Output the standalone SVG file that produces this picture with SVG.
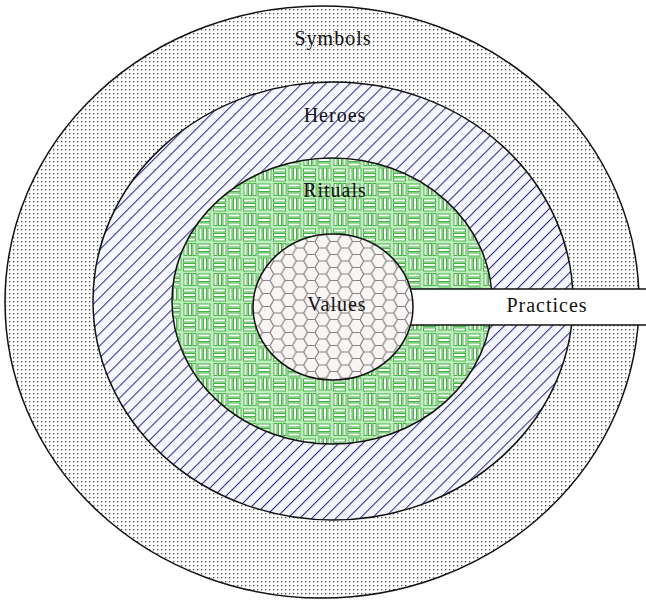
<svg xmlns="http://www.w3.org/2000/svg" width="646" height="605" viewBox="0 0 646 605">
<defs>
<pattern id="dots" width="4" height="4" patternUnits="userSpaceOnUse">
<rect width="4" height="4" fill="#ffffff"/>
<rect x="1" y="1" width="1.3" height="1.3" fill="#4a4a4a"/>
</pattern>
<pattern id="hatch" width="8.5" height="8.5" patternUnits="userSpaceOnUse" patternTransform="rotate(45)">
<rect width="8.5" height="8.5" fill="#f6f6ff"/>
<line x1="0.5" y1="0" x2="0.5" y2="8.5" stroke="#2e2e86" stroke-width="1.1"/>
</pattern>
<pattern id="weave" width="30" height="30" patternUnits="userSpaceOnUse" x="2" y="2">
<rect width="30" height="30" fill="#bfeebf"/>
<g stroke="#47b347" stroke-width="1" fill="#ffffff">
<rect x="2" y="1.5" width="3" height="12"/><rect x="6.5" y="1.5" width="3" height="12"/><rect x="11" y="1.5" width="3" height="12"/>
<rect x="16" y="2" width="12" height="3"/><rect x="16" y="6.5" width="12" height="3"/><rect x="16" y="11" width="12" height="3"/>
<rect x="1.5" y="17" width="12" height="3"/><rect x="1.5" y="21.5" width="12" height="3"/><rect x="1.5" y="26" width="12" height="3"/>
<rect x="17" y="16" width="3" height="12"/><rect x="21.5" y="16" width="3" height="12"/><rect x="26" y="16" width="3" height="12"/>
</g>
</pattern>
<pattern id="hex" width="22.5" height="13" patternUnits="userSpaceOnUse" x="0" y="1">
<rect width="22.5" height="13" fill="#f8f5f5"/>
<path d="M0,6.5 L3.75,0 L11.25,0 L15,6.5 L11.25,13 L3.75,13 Z M15,6.5 L22.5,6.5" fill="none" stroke="#8a8282" stroke-width="1.2"/>
</pattern>
<style>
.ring{stroke:#111;stroke-width:1.5}
.lbl{font-family:"Liberation Serif","Times New Roman",serif;font-size:20px;fill:#111;text-anchor:middle;letter-spacing:1px}
</style>
</defs>
<g id="symbols">
<ellipse class="ring" cx="322" cy="302" rx="317" ry="296" fill="url(#dots)"/>
<text class="lbl" x="333" y="45">Symbols</text>
</g>
<g id="heroes">
<ellipse class="ring" cx="333" cy="301" rx="240" ry="219" fill="url(#hatch)"/>
<text class="lbl" x="335" y="122">Heroes</text>
</g>
<g id="rituals">
<ellipse class="ring" cx="332" cy="301" rx="160" ry="143" fill="url(#weave)"/>
<text class="lbl" x="335" y="197">Rituals</text>
</g>
<g id="practices">
<rect class="ring" x="400" y="289" width="260" height="36" fill="#ffffff"/>
<text class="lbl" x="547" y="312">Practices</text>
</g>
<g id="values">
<ellipse class="ring" cx="333" cy="307" rx="80" ry="73" fill="url(#hex)"/>
<text class="lbl" x="337" y="311">Values</text>
</g>
<g id="connectors"></g>
</svg>
